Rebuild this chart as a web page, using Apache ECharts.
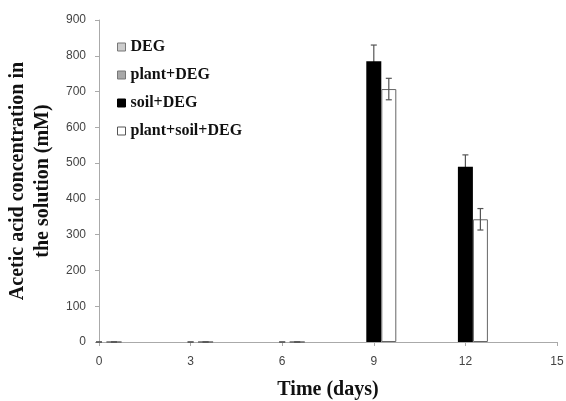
<!DOCTYPE html>
<html>
<head>
<meta charset="utf-8">
<script src="https://cdn.jsdelivr.net/npm/echarts@6/dist/echarts.min.js"></script>
<style>html,body{margin:0;padding:0;background:#fff;}#c{width:566px;height:401px;}</style>
</head>
<body>
<div id="c"></div>
<script>
var days = [0, 3, 6, 9, 12];
var deg = [0, 0, 0, 0, 0];
var plantDeg = [0, 0, 0, 0, 0];
var soilDeg = [0, 0, 0, 785, 490];
var soilDegErr = [0, 0, 0, 45, 33];
var plantSoilDeg = [0, 0, 0, 707, 343];
var plantSoilDegErr = [0, 0, 0, 30, 30];

function pairs(v) { return days.map(function (d, i) { return [d, v[i]]; }); }
function errData(v, e) { return days.map(function (d, i) { return [d, v[i], e[i]]; }); }

var BW = 15;
function errRender(offset) {
  return function (params, api) {
    var x = api.value(0), y = api.value(1), e = api.value(2);
    var top = api.coord([x, y + e]);
    var bot = api.coord([x, y - e]);
    var cx = top[0] + offset;
    var hw = 3;
    return {
      type: 'group',
      children: [
        { type: 'line', shape: { x1: cx, y1: top[1], x2: cx, y2: bot[1] }, style: { stroke: '#555', lineWidth: 1.2 } },
        { type: 'line', shape: { x1: cx - hw, y1: top[1], x2: cx + hw, y2: top[1] }, style: { stroke: '#555', lineWidth: 1.2 } },
        { type: 'line', shape: { x1: cx - hw, y1: bot[1], x2: cx + hw, y2: bot[1] }, style: { stroke: '#555', lineWidth: 1.2 } }
      ]
    };
  };
}

var chart = echarts.init(document.getElementById('c'));
var serif = '"Liberation Serif", "Times New Roman", serif';
var sans = '"Liberation Sans", Arial, sans-serif';
chart.setOption({
  animation: false,
  grid: { left: 99, right: 9, top: 20, bottom: 59, containLabel: false, outerBoundsMode: 'none' },
  legend: {
    orient: 'vertical',
    left: 112, top: 34,
    itemWidth: 8, itemHeight: 8, itemGap: 12,
    textStyle: { fontFamily: serif, fontWeight: 'bold', fontSize: 16, color: '#111', lineHeight: 16 },
    data: [
      { name: 'DEG', icon: 'rect', itemStyle: { color: '#cccccc', borderColor: '#777', borderWidth: 1 } },
      { name: 'plant+DEG', icon: 'rect', itemStyle: { color: '#a8a8a8', borderColor: '#777', borderWidth: 1 } },
      { name: 'soil+DEG', icon: 'rect', itemStyle: { color: '#000', borderColor: '#000', borderWidth: 1 } },
      { name: 'plant+soil+DEG', icon: 'rect', itemStyle: { color: '#fff', borderColor: '#555', borderWidth: 1 } }
    ]
  },
  xAxis: {
    type: 'value', min: 0, max: 15, interval: 3,
    name: 'Time (days)', nameLocation: 'middle', nameGap: 38,
    nameTextStyle: { fontFamily: serif, fontWeight: 'bold', fontSize: 20, color: '#111' },
    axisLine: { lineStyle: { color: '#aaa' } },
    axisTick: { show: true, length: 4, lineStyle: { color: '#aaa' } },
    axisLabel: { fontFamily: sans, fontSize: 12, color: '#444', margin: 14 },
    splitLine: { show: false }
  },
  yAxis: {
    type: 'value', min: 0, max: 900, interval: 100,
    name: 'Acetic acid concentration in\nthe solution (mM)', nameLocation: 'middle', nameGap: 40,
    nameTextStyle: { fontFamily: serif, fontWeight: 'bold', fontSize: 20, color: '#111', lineHeight: 25 },
    axisLine: { show: true, lineStyle: { color: '#aaa' } },
    axisTick: { show: true, length: 4, lineStyle: { color: '#aaa' } },
    axisLabel: { fontFamily: sans, fontSize: 12, color: '#444', margin: 13 },
    splitLine: { show: false }
  },
  series: [
    { name: 'DEG', type: 'bar', stack: 'z', barWidth: BW, barGap: '0%', data: pairs(deg),
      itemStyle: { color: '#cccccc', borderWidth: 0 } },
    { name: 'plant+DEG', type: 'bar', stack: 'z', barWidth: BW, barGap: '0%', data: pairs(plantDeg),
      itemStyle: { color: '#a8a8a8', borderWidth: 0 } },
    { name: 'soil+DEG', type: 'bar', barWidth: BW, barGap: '0%', data: pairs(soilDeg), z: 3,
      itemStyle: { color: '#000', borderWidth: 0 } },
    { name: 'plant+soil+DEG', type: 'bar', barWidth: BW, barGap: '0%', data: pairs(plantSoilDeg), z: 3,
      itemStyle: { color: '#fff', borderColor: '#666', borderWidth: 1 } },
    { type: 'custom', renderItem: errRender(0), data: errData(soilDeg, soilDegErr), z: 1, silent: true },
    { type: 'custom', renderItem: errRender(BW), data: errData(plantSoilDeg, plantSoilDegErr), z: 5, silent: true }
  ]
});
</script>
</body>
</html>
